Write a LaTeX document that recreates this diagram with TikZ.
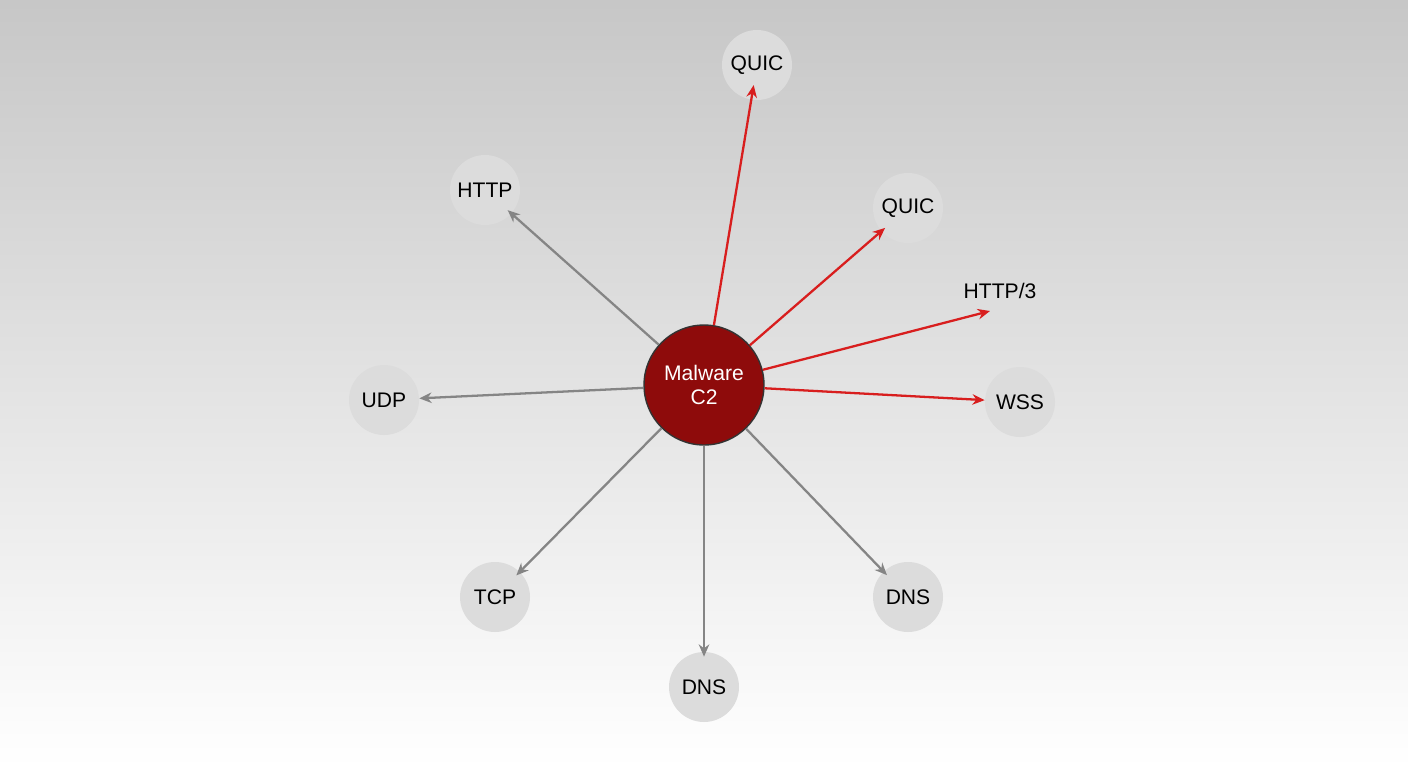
\documentclass[tikz,border=0pt]{standalone}
\usepackage{fontspec}
\setmainfont{Liberation Sans}
\usetikzlibrary{arrows.meta}
\definecolor{hubred}{HTML}{8E0B0B}
\definecolor{sat}{HTML}{DCDCDC}
\definecolor{linkgray}{HTML}{858585}
\definecolor{linkred}{HTML}{D81E1E}
\begin{document}
\begin{tikzpicture}[x=0.02cm,y=-0.02cm,
  proto/.style={circle,fill=sat,minimum size=1.4cm,inner sep=0pt,font=\large},
  hub/.style={circle,fill=hubred,draw=black!80,line width=0.8pt,minimum size=2.4cm,
    text=white,align=center,font=\large},
  old/.style={draw=linkgray,line width=1.3pt,-{Stealth[length=7pt,width=6pt]},shorten >=-0.1cm},
  new/.style={draw=linkred,line width=1.3pt,-{Stealth[length=7pt,width=6pt]},shorten >=-0.1cm}]
  \shade[top color=black!22,bottom color=white] (0,0) rectangle (1408,768);
  \useasboundingbox (0,0) rectangle (1408,768);
  \node[hub] (c2) at (704,385) {Malware\\C2};
  \node[proto] (quicA) at (757,65) {QUIC};
  \node[proto] (http) at (485,190) {HTTP};
  \node[proto] (quicB) at (908,208) {QUIC};
  \node[font=\large] (http3) at (1000,291) {HTTP/3};
  \coordinate (h3end) at (990,311);
  \node[proto] (udp) at (384,400) {UDP};
  \node[proto] (wss) at (1020,402) {WSS};
  \node[proto] (tcp) at (495,597) {TCP};
  \node[proto] (dnsA) at (908,597) {DNS};
  \node[proto] (dnsB) at (704,687) {DNS};
  \draw[new,shorten >=-0.3cm] (c2) -- (quicA);
  \draw[new] (c2) -- (quicB);
  \draw[new,shorten >=0pt] (c2) -- (h3end);
  \draw[new,shorten >=0pt] (c2) -- (wss);
  \draw[old] (c2) -- (http);
  \draw[old,shorten >=0pt] (c2) -- (udp);
  \draw[old] (c2) -- (tcp);
  \draw[old] (c2) -- (dnsA);
  \draw[old] (c2) -- (dnsB);
\end{tikzpicture}
\end{document}
